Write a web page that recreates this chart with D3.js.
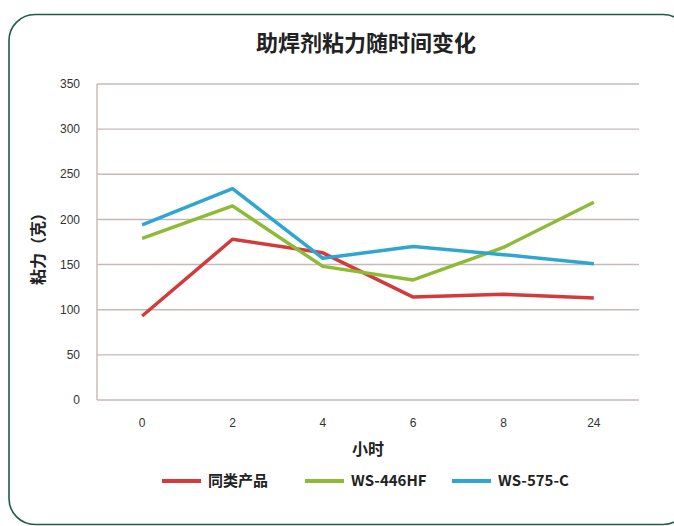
<!DOCTYPE html>
<html>
<head>
<meta charset="utf-8">
<script src="https://d3js.org/d3.v7.min.js"></script>
<style>
  body { margin: 0; background: #fff; }
  text { font-family: "Noto Sans CJK SC", sans-serif; }
  .tick-label { font-family: "Liberation Sans Narrow", "Liberation Sans", sans-serif; font-size: 12px; fill: #333; }
</style>
</head>
<body>
<div id="chart"></div>
<script>
  var hours = ["0", "2", "4", "6", "8", "24"];
  var yTicks = [0, 50, 100, 150, 200, 250, 300, 350];
  var seriesNames = ["同类产品", "WS-446HF", "WS-575-C"];
  var seriesColors = ["#d33a3c", "#8dbb35", "#2fa6cf"];
  var tongLei = [93, 178, 163, 114, 117, 113];
  var ws446 = [179, 215, 148, 133, 169, 219];
  var ws575 = [194, 234, 157, 170, 161, 151];
  var allSeries = [tongLei, ws446, ws575];

  var width = 674, height = 526;
  var plot = { left: 97, right: 639, top: 84, bottom: 400 };

  var svg = d3.select("#chart").append("svg")
    .attr("width", width)
    .attr("height", height);

  // green rounded frame
  svg.append("rect")
    .attr("x", 9).attr("y", 14.5)
    .attr("width", 680).attr("height", 510)
    .attr("rx", 26).attr("ry", 26)
    .attr("fill", "#fff")
    .attr("stroke", "#1d5c45")
    .attr("stroke-width", 1.6);

  var x = d3.scalePoint()
    .domain(hours)
    .range([plot.left, plot.right])
    .padding(0.5);

  var y = d3.scaleLinear()
    .domain([0, 350])
    .range([plot.bottom, plot.top]);

  // gridlines
  svg.append("g")
    .selectAll("line")
    .data(yTicks)
    .enter()
    .append("line")
    .attr("x1", plot.left)
    .attr("x2", plot.right)
    .attr("y1", function (d) { return y(d); })
    .attr("y2", function (d) { return y(d); })
    .attr("stroke", "#c6b9b7")
    .attr("stroke-width", 1.4);

  svg.append("line")
    .attr("x1", plot.left).attr("x2", plot.left)
    .attr("y1", plot.top).attr("y2", plot.bottom)
    .attr("stroke", "#c6b9b7")
    .attr("stroke-width", 1.4);

  // y tick labels
  svg.append("g")
    .selectAll("text")
    .data(yTicks)
    .enter()
    .append("text")
    .attr("class", "tick-label")
    .attr("x", 80)
    .attr("y", function (d) { return y(d); })
    .attr("dy", "0.35em")
    .attr("text-anchor", "end")
    .text(function (d) { return d; });

  // x tick labels
  svg.append("g")
    .selectAll("text")
    .data(hours)
    .enter()
    .append("text")
    .attr("class", "tick-label")
    .attr("x", function (d) { return x(d); })
    .attr("y", 423)
    .attr("dy", "0.35em")
    .attr("text-anchor", "middle")
    .text(function (d) { return d; });

  // lines
  var line = d3.line()
    .x(function (d, i) { return x(hours[i]); })
    .y(function (d) { return y(d); });

  svg.append("g")
    .selectAll("path")
    .data(allSeries)
    .enter()
    .append("path")
    .attr("d", line)
    .attr("fill", "none")
    .attr("stroke", function (d, i) { return seriesColors[i]; })
    .attr("stroke-width", 3.5)
    .attr("stroke-linejoin", "round");

  // titles
  svg.append("text")
    .attr("x", 366).attr("y", 51)
    .attr("text-anchor", "middle")
    .attr("font-size", 22)
    .attr("font-weight", "bold")
    .attr("fill", "#222")
    .text("助焊剂粘力随时间变化");

  svg.append("text")
    .attr("transform", "translate(44,245) rotate(-90)")
    .attr("text-anchor", "middle")
    .attr("font-size", 16)
    .attr("font-weight", "bold")
    .attr("fill", "#222")
    .text("粘力（克）");

  svg.append("text")
    .attr("x", 368).attr("y", 455)
    .attr("text-anchor", "middle")
    .attr("font-size", 16)
    .attr("font-weight", "bold")
    .attr("fill", "#222")
    .text("小时");

  // legend
  var legendX = [162, 305, 452];
  var legend = svg.append("g")
    .selectAll("g")
    .data(seriesNames)
    .enter()
    .append("g")
    .attr("transform", function (d, i) { return "translate(" + legendX[i] + ",481)"; });

  legend.append("line")
    .attr("x1", 0).attr("x2", 39)
    .attr("stroke", function (d, i) { return seriesColors[i]; })
    .attr("stroke-width", 4);

  legend.append("text")
    .attr("x", 46)
    .attr("dy", "0.35em")
    .attr("font-size", 15)
    .attr("font-weight", "bold")
    .attr("fill", "#222")
    .style("font-family", "'Liberation Sans Narrow', 'Noto Sans CJK SC', sans-serif")
    .text(function (d) { return d; });
</script>
</body>
</html>
